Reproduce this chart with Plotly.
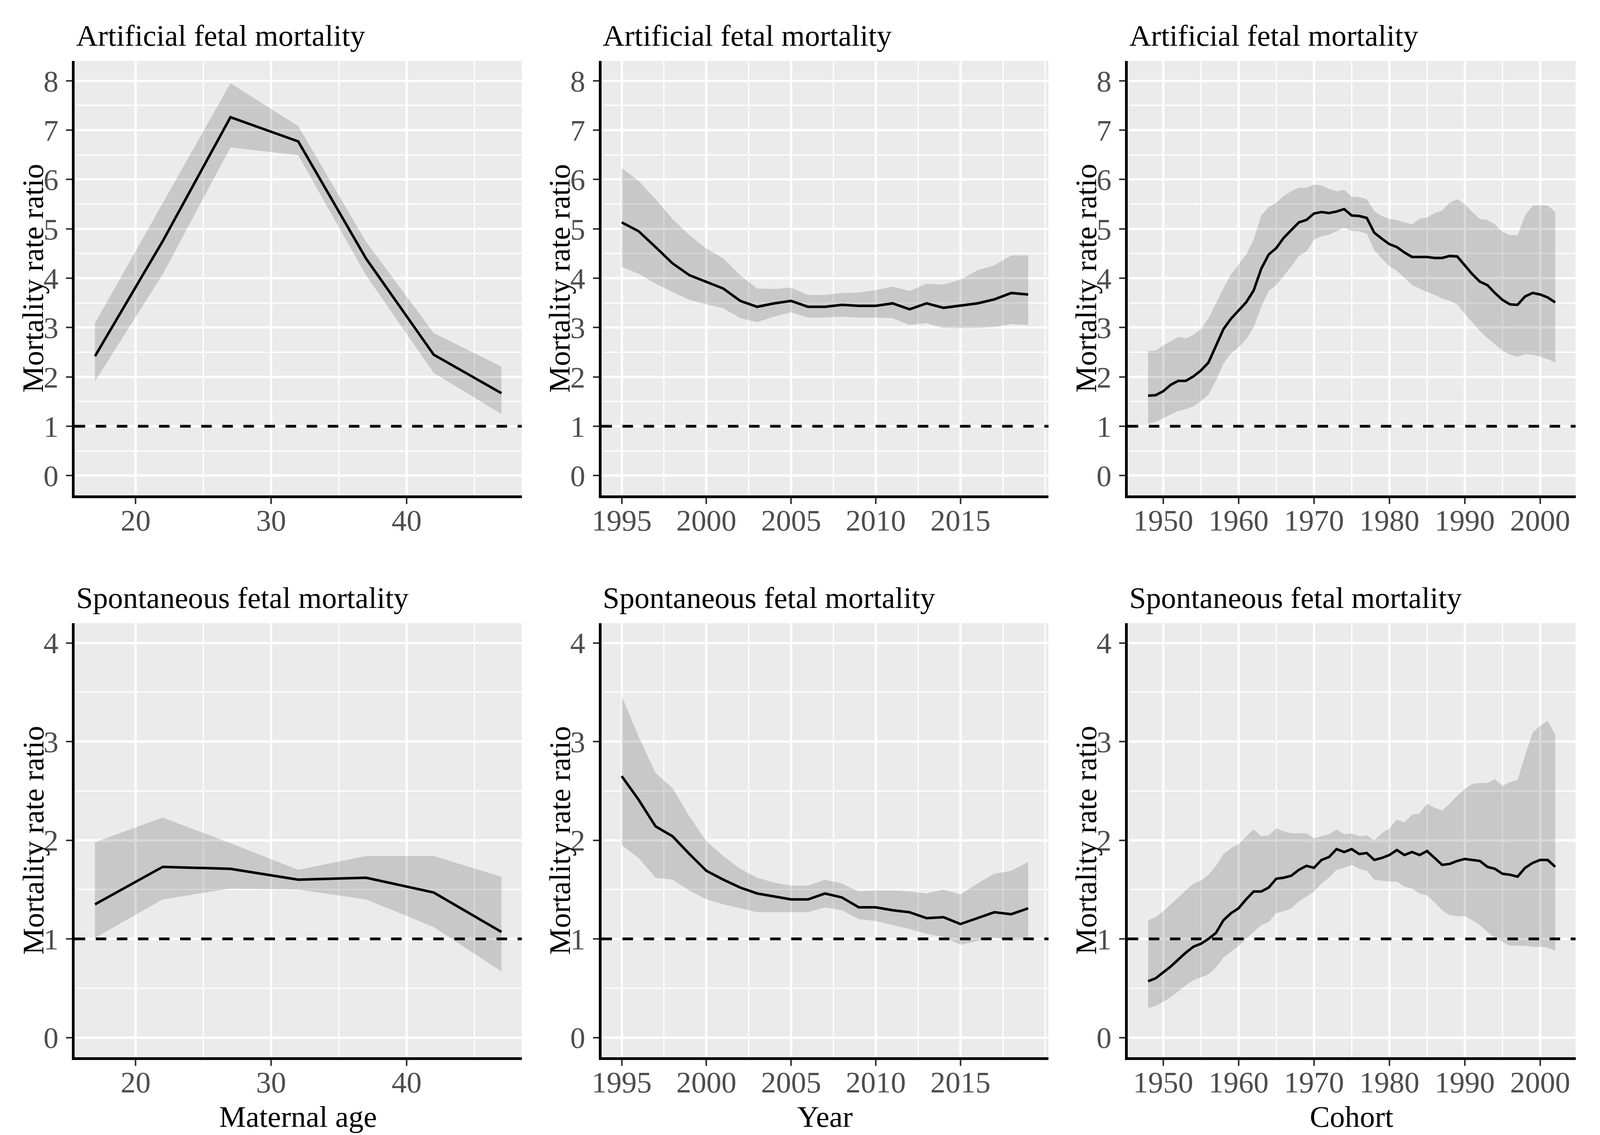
import plotly.graph_objects as go

# ---------------- data ----------------
age = [17, 22, 27, 32, 37, 42, 47]
art_age_est = [2.42, 4.75, 7.26, 6.77, 4.40, 2.45, 1.67]
art_age_lo = [1.91, 4.08, 6.65, 6.49, 4.06, 2.08, 1.25]
art_age_hi = [3.09, 5.52, 7.95, 7.08, 4.74, 2.89, 2.21]

spo_age_est = [1.35, 1.73, 1.71, 1.60, 1.62, 1.47, 1.07]
spo_age_lo = [1.01, 1.40, 1.51, 1.50, 1.40, 1.12, 0.67]
spo_age_hi = [1.98, 2.23, 1.97, 1.70, 1.84, 1.84, 1.63]

year = list(range(1995, 2020))
art_year_est = [5.13, 4.95, 4.63, 4.30, 4.06, 3.93, 3.79, 3.54, 3.42, 3.49, 3.54, 3.42, 3.42,
                3.46, 3.44, 3.44, 3.49, 3.37, 3.49, 3.40, 3.44, 3.49, 3.57, 3.70, 3.67]
art_year_lo = [4.23, 4.09, 3.89, 3.72, 3.56, 3.47, 3.39, 3.19, 3.11, 3.22, 3.31, 3.20, 3.20,
               3.22, 3.20, 3.20, 3.19, 3.05, 3.09, 2.99, 2.99, 2.99, 3.01, 3.07, 3.05]
art_year_hi = [6.23, 5.97, 5.60, 5.20, 4.87, 4.60, 4.40, 4.06, 3.79, 3.78, 3.81, 3.66, 3.66,
               3.70, 3.71, 3.76, 3.83, 3.74, 3.89, 3.87, 3.97, 4.16, 4.26, 4.46, 4.46]

spo_year_est = [2.65, 2.41, 2.14, 2.04, 1.86, 1.69, 1.60, 1.52, 1.46, 1.43, 1.40, 1.40, 1.46,
                1.42, 1.32, 1.32, 1.29, 1.27, 1.21, 1.22, 1.15, 1.21, 1.27, 1.25, 1.31]
spo_year_lo = [1.95, 1.82, 1.62, 1.60, 1.49, 1.40, 1.35, 1.31, 1.27, 1.27, 1.27, 1.27, 1.32,
               1.29, 1.20, 1.18, 1.14, 1.10, 1.05, 1.02, 0.94, 0.98, 1.01, 0.98, 1.00]
spo_year_hi = [3.46, 3.05, 2.68, 2.53, 2.24, 1.99, 1.84, 1.71, 1.62, 1.57, 1.54, 1.54, 1.60,
               1.56, 1.48, 1.49, 1.49, 1.48, 1.46, 1.50, 1.45, 1.56, 1.66, 1.69, 1.78]

cohort = list(range(1948, 2003))
art_coh_est = [1.62, 1.63, 1.71, 1.84, 1.92, 1.92, 2.01, 2.13, 2.29, 2.62, 2.97, 3.18, 3.35, 3.51,
               3.75, 4.19, 4.48, 4.61, 4.82, 4.97, 5.13, 5.18, 5.31, 5.34, 5.32, 5.35, 5.40, 5.27,
               5.26, 5.22, 4.92, 4.80, 4.69, 4.63, 4.52, 4.43, 4.43, 4.43, 4.41, 4.41, 4.45, 4.44,
               4.26, 4.08, 3.93, 3.86, 3.70, 3.56, 3.47, 3.46, 3.63, 3.70, 3.67, 3.61, 3.51]
art_coh_lo = [1.05, 1.09, 1.16, 1.24, 1.31, 1.35, 1.40, 1.51, 1.64, 1.92, 2.27, 2.48, 2.60, 2.76,
              3.00, 3.42, 3.74, 3.86, 4.05, 4.24, 4.45, 4.54, 4.78, 4.85, 4.88, 4.95, 5.02, 4.96,
              4.95, 4.90, 4.57, 4.40, 4.24, 4.15, 4.01, 3.86, 3.79, 3.72, 3.66, 3.59, 3.54, 3.47,
              3.28, 3.11, 2.93, 2.79, 2.66, 2.53, 2.45, 2.41, 2.46, 2.45, 2.41, 2.36, 2.29]
art_coh_hi = [2.53, 2.53, 2.64, 2.72, 2.81, 2.78, 2.85, 2.97, 3.18, 3.49, 3.80, 4.08, 4.28, 4.47,
              4.78, 5.27, 5.44, 5.53, 5.67, 5.76, 5.83, 5.83, 5.90, 5.88, 5.81, 5.76, 5.79, 5.65,
              5.64, 5.60, 5.36, 5.26, 5.20, 5.18, 5.13, 5.09, 5.20, 5.23, 5.32, 5.37, 5.53, 5.60,
              5.50, 5.34, 5.20, 5.18, 5.09, 4.94, 4.87, 4.87, 5.27, 5.47, 5.48, 5.47, 5.34]

spo_coh_est = [0.57, 0.60, 0.66, 0.72, 0.79, 0.86, 0.92, 0.95, 1.00, 1.06, 1.19, 1.26, 1.31, 1.40,
               1.48, 1.48, 1.52, 1.61, 1.62, 1.64, 1.70, 1.74, 1.72, 1.80, 1.83, 1.91, 1.88, 1.91,
               1.86, 1.87, 1.80, 1.82, 1.85, 1.90, 1.85, 1.88, 1.85, 1.89, 1.82, 1.75, 1.76, 1.79,
               1.81, 1.80, 1.79, 1.73, 1.71, 1.66, 1.65, 1.63, 1.72, 1.77, 1.80, 1.80, 1.73]
spo_coh_lo = [0.30, 0.32, 0.36, 0.41, 0.47, 0.53, 0.58, 0.61, 0.64, 0.71, 0.81, 0.87, 0.93, 1.00,
              1.07, 1.14, 1.17, 1.26, 1.28, 1.31, 1.38, 1.43, 1.48, 1.56, 1.62, 1.70, 1.72, 1.75,
              1.71, 1.69, 1.60, 1.59, 1.58, 1.58, 1.53, 1.51, 1.46, 1.44, 1.37, 1.29, 1.24, 1.23,
              1.23, 1.19, 1.14, 1.07, 1.01, 0.97, 0.93, 0.93, 0.93, 0.92, 0.92, 0.91, 0.88]
spo_coh_hi = [1.19, 1.22, 1.28, 1.35, 1.42, 1.49, 1.56, 1.59, 1.65, 1.74, 1.86, 1.92, 1.96, 2.04,
              2.11, 2.04, 2.05, 2.12, 2.09, 2.07, 2.07, 2.07, 2.02, 2.04, 2.06, 2.11, 2.06, 2.07,
              2.04, 2.05, 2.00, 2.07, 2.12, 2.21, 2.18, 2.26, 2.27, 2.37, 2.33, 2.30, 2.37, 2.45,
              2.52, 2.57, 2.58, 2.58, 2.62, 2.55, 2.59, 2.61, 2.86, 3.09, 3.16, 3.21, 3.07]

title_top = "Artificial fetal mortality"
title_bottom = "Spontaneous fetal mortality"
y_title = "Mortality rate ratio"
x_titles = ["Maternal age", "Year", "Cohort"]

age_ticks = [20, 30, 40]
year_ticks = [1995, 2000, 2005, 2010, 2015]
cohort_ticks = [1950, 1960, 1970, 1980, 1990, 2000]
age_minor = [25, 35, 45]
year_minor = [1997.5, 2002.5, 2007.5, 2012.5, 2017.5, 2020]
cohort_minor = [1955, 1965, 1975, 1985, 1995]
ytop_ticks = [0, 1, 2, 3, 4, 5, 6, 7, 8]
ytop_minor = [0.5, 1.5, 2.5, 3.5, 4.5, 5.5, 6.5, 7.5]
ybot_ticks = [0, 1, 2, 3, 4]
ybot_minor = [0.5, 1.5, 2.5, 3.5]

# ---------------- layout geometry (reference pixel grid) ----------------
W, H = 4345, 2905
FONT = "Liberation Serif, Times New Roman, serif"
FS = 77
col_px = [(195, 1414), (1631, 2850), (3066, 4287)]
row_px = [(148, 1260), (1587, 2698)]

def xd(a, b):
    return [a / W, b / W]

def yd(top, bot):
    return [1 - bot / H, 1 - top / H]

fig = go.Figure()

panels = [
    (age, art_age_est, art_age_lo, art_age_hi, 0, 0),
    (year, art_year_est, art_year_lo, art_year_hi, 0, 1),
    (cohort, art_coh_est, art_coh_lo, art_coh_hi, 0, 2),
    (age, spo_age_est, spo_age_lo, spo_age_hi, 1, 0),
    (year, spo_year_est, spo_year_lo, spo_year_hi, 1, 1),
    (cohort, spo_coh_est, spo_coh_lo, spo_coh_hi, 1, 2),
]
xranges = [[15.5, 48.5], [1993.8, 2020.2], [1945.3, 2004.7]]
xticks = [age_ticks, year_ticks, cohort_ticks]
xminor = [age_minor, year_minor, cohort_minor]
yranges = [[-0.4, 8.4], [-0.2, 4.2]]
yticks = [ytop_ticks, ybot_ticks]
yminor = [ytop_minor, ybot_minor]

axis_common = dict(
    showline=True, linecolor="black", linewidth=7, mirror=False,
    ticks="outside", ticklen=15, tickwidth=4, tickcolor="#333333",
    tickfont=dict(family=FONT, size=FS, color="#4D4D4D"),
    showgrid=True, gridcolor="white", gridwidth=6, zeroline=False,
    tickmode="array",
)

annotations = []
shapes = []
for i, (xs, est, lo, hi, r, c) in enumerate(panels):
    n = i + 1
    xa = "x" if n == 1 else f"x{n}"
    ya = "y" if n == 1 else f"y{n}"
    fig.add_trace(go.Scatter(
        x=list(xs) + list(xs)[::-1], y=list(hi) + list(lo)[::-1],
        xaxis=xa, yaxis=ya, fill="toself", fillcolor="rgba(0,0,0,0.15)",
        line=dict(width=0), mode="lines", hoverinfo="skip", showlegend=False))
    fig.add_trace(go.Scatter(
        x=xs, y=est, xaxis=xa, yaxis=ya, mode="lines",
        line=dict(color="black", width=6.5), showlegend=False))

    xkey = "xaxis" if n == 1 else f"xaxis{n}"
    ykey = "yaxis" if n == 1 else f"yaxis{n}"
    fig.layout[xkey] = dict(
        axis_common, domain=xd(*col_px[c]), anchor=ya, range=xranges[c],
        tickvals=xticks[c], ticktext=[str(v) for v in xticks[c]],
        ticklabelstandoff=-24,
        minor=dict(tickvals=xminor[c], showgrid=True, gridcolor="white", gridwidth=3, ticks=""))
    fig.layout[ykey] = dict(
        axis_common, domain=yd(*row_px[r]), anchor=xa, range=yranges[r],
        tickvals=yticks[r], ticktext=[str(v) for v in yticks[r]],
        ticklabelstandoff=4,
        minor=dict(tickvals=yminor[r], showgrid=True, gridcolor="white", gridwidth=3, ticks=""))

    shapes.append(dict(type="line", xref=f"{xa} domain", yref=ya, x0=0, x1=1, y0=1, y1=1,
                       line=dict(color="black", width=7, dash="27px,27px"), layer="above"))

    # panel title
    annotations.append(dict(
        text=title_top if r == 0 else title_bottom, xref="paper", yref="paper",
        x=(col_px[c][0] + 2) / W, y=1 - (row_px[r][0] - 36) / H,
        xanchor="left", yanchor="bottom", yshift=-16, showarrow=False,
        font=dict(family=FONT, size=FS, color="black")))
    # y axis title
    annotations.append(dict(
        text=y_title, xref="paper", yref="paper",
        x=(col_px[c][0] - 114) / W, y=1 - (row_px[r][0] + row_px[r][1]) / 2 / H,
        xanchor="center", yanchor="middle", textangle=-90, showarrow=False,
        font=dict(family=FONT, size=FS, color="black")))
    if r == 1:
        annotations.append(dict(
            text=x_titles[c], xref="paper", yref="paper",
            x=(col_px[c][0] + col_px[c][1]) / 2 / W, y=1 - 2850 / H,
            xanchor="center", yanchor="middle", showarrow=False,
            font=dict(family=FONT, size=FS, color="black")))

fig.update_layout(
    autosize=True, margin=dict(l=0, r=0, t=0, b=0, autoexpand=False),
    paper_bgcolor="white", plot_bgcolor="#EBEBEB",
    showlegend=False, annotations=annotations, shapes=shapes,
    font=dict(family=FONT, size=FS),
)

fig.write_html("out.html", default_width="100%", default_height="100vh",
               config={"responsive": True})
